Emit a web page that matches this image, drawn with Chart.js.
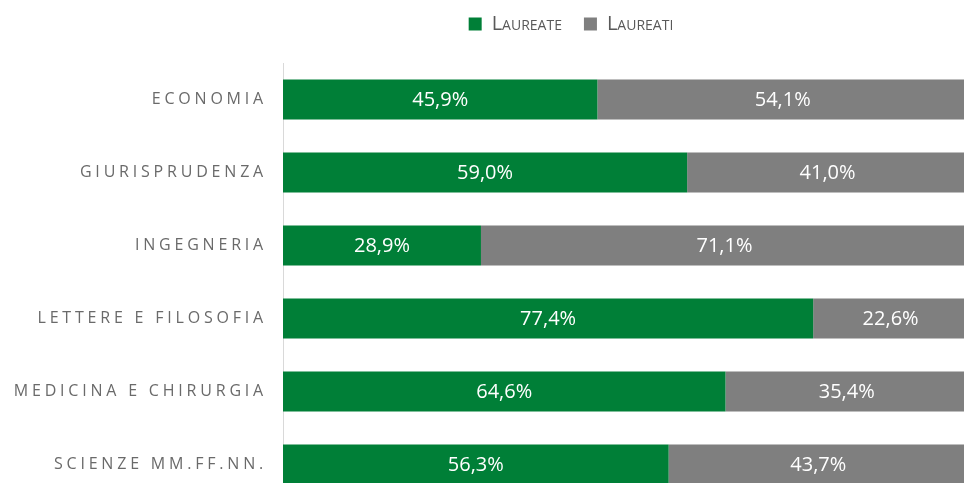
<!DOCTYPE html>
<html>
<head>
<meta charset="utf-8">
<script src="https://cdn.jsdelivr.net/npm/chart.js@4/dist/chart.umd.min.js"></script>
<style>
  html, body { margin: 0; padding: 0; background: #fff; overflow: hidden; }
  #chartLaureati { position: absolute; left: 0; top: 0; }
</style>
</head>
<body>
<canvas id="chartLaureati" width="970" height="501"></canvas>
<script>
// ── Dati ──
const facolta   = ['ECONOMIA', 'GIURISPRUDENZA', 'INGEGNERIA', 'LETTERE E FILOSOFIA', 'MEDICINA E CHIRURGIA', 'SCIENZE MM.FF.NN.'];
const laureate  = [45.9, 59.0, 28.9, 77.4, 64.6, 56.3];
const laureati  = [54.1, 41.0, 71.1, 22.6, 35.4, 43.7];
const serieNomi = ['Laureate', 'Laureati'];

const VERDE  = '#007f37';
const GRIGIO = '#7f7f7f';

const AREA_TOP   = 63;   // inizio area del grafico
const LEGENDA_CX = 571;  // centro orizzontale della legenda
const LEGENDA_CY = 24;   // centro verticale della legenda

// ── Scala categorie con spaziatura lettere ──
class SpacedCategoryScale extends Chart.CategoryScale {
    drawLabels(chartArea) {
        const ctx = this.ctx;
        ctx.save();
        ctx.letterSpacing = '3.8px';
        super.drawLabels(chartArea);
        ctx.restore();
    }
}
SpacedCategoryScale.id = 'spacedCategory';
SpacedCategoryScale.defaults = Chart.CategoryScale.defaults;
Chart.register(SpacedCategoryScale);

// ── Etichette percentuali dentro le barre ──
const etichettePlugin = {
    id: 'etichette',
    afterDatasetsDraw(chart) {
        const ctx = chart.ctx;
        ctx.save();
        ctx.font = '20px "Open Sans"';
        ctx.fillStyle = '#ffffff';
        ctx.textAlign = 'center';
        ctx.textBaseline = 'middle';
        chart.data.datasets.forEach((ds, i) => {
            chart.getDatasetMeta(i).data.forEach((bar, j) => {
                const v = ds.data[j];
                const cx = (bar.x + bar.base) / 2;
                ctx.fillText(v.toFixed(1).replace('.', ',') + '%', cx, bar.y + 1);
            });
        });
        ctx.restore();
    }
};

// ── Sposta la legenda dove sta nell'originale ──
const legendaPlugin = {
    id: 'posLegenda',
    afterLayout(chart) {
        const lg = chart.legend;
        if (!lg) return;
        const dx = LEGENDA_CX - (lg.left + lg.right) / 2;
        lg.left += dx; lg.right += dx;
        const lab = lg.options.labels;
        const itemH = Math.max(lab.font.size, lab.boxHeight);
        const top = LEGENDA_CY - lab.padding - itemH / 2;
        lg.bottom = top + lg.height;
        lg.top = top;
    }
};

const chart = new Chart(document.getElementById('chartLaureati'), {
    type: 'bar',
    data: {
        labels: facolta,
        datasets: [
            { label: serieNomi[0], data: laureate, backgroundColor: VERDE,  borderWidth: 0, barPercentage: 0.548, categoryPercentage: 1 },
            { label: serieNomi[1], data: laureati, backgroundColor: GRIGIO, borderWidth: 0, barPercentage: 0.548, categoryPercentage: 1 }
        ]
    },
    plugins: [etichettePlugin, legendaPlugin],
    options: {
        indexAxis: 'y',
        responsive: false,
        animation: false,
        layout: { padding: { top: 30, right: 2, left: 0, bottom: 0 } },
        plugins: {
            legend: {
                position: 'top',
                labels: {
                    color: '#595959',
                    boxWidth: 13,
                    boxHeight: 13,
                    padding: 22,
                    font: { family: '"Open Sans"', size: 20, weight: 'small-caps' }
                }
            },
            tooltip: { enabled: false }
        },
        scales: {
            x: { stacked: true, min: 0, max: 100, display: false },
            y: {
                type: 'spacedCategory',
                stacked: true,
                grid: { display: false, drawTicks: false },
                border: { display: true, color: '#d9d9d9', width: 1 },
                ticks: { color: '#6a6a6a', padding: 16, font: { family: '"Open Sans"', size: 16 } },
                afterFit: s => { s.width = 283; s.paddingTop = 0; s.paddingBottom = 0; }
            }
        }
    }
});

// Aggiusta il margine superiore perché l'area parta da AREA_TOP
const dTop = AREA_TOP - chart.chartArea.top;
if (Math.abs(dTop) > 0.1) {
    chart.options.layout.padding.top += dTop;
    chart.update();
}
</script>
</body>
</html>
